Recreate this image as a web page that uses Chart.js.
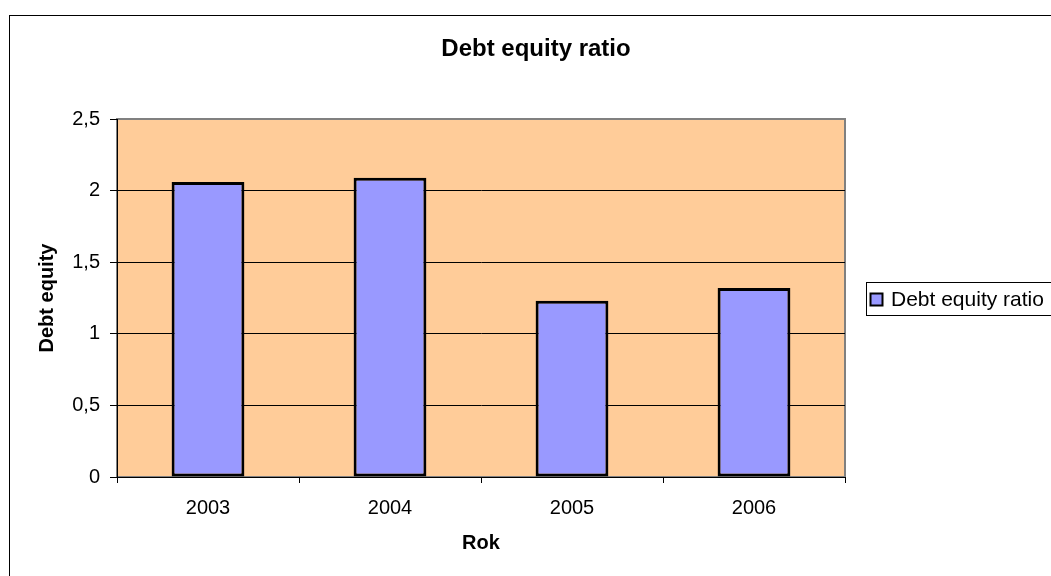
<!DOCTYPE html>
<html lang="cs">
<head>
    <meta charset="UTF-8"/>
    <title>Debt equity ratio</title>
    <style>
        body { margin: 0; background: #fff; }
        #chart-box { width: 1051px; height: 576px; }
    </style>
    <script src="https://cdn.jsdelivr.net/npm/chart.js"></script>
</head>
<body>
    <div id="chart-box">
        <canvas id="myChart" width="1051" height="576"></canvas>
    </div>
    <script>
        // data
        var roky = ['2003', '2004', '2005', '2006'];
        var debtEquity = [2.06, 2.09, 1.23, 1.32];
        var serieNazev = 'Debt equity ratio';
        var yMin = 0, yMax = 2.5, yKrok = 0.5;

        var pismo = 'Arial, "Liberation Sans", sans-serif';

        // pozadi grafu, ramecek, nadpis a legenda
        var kresleni = {
            id: 'kresleni',
            beforeDraw: function(chart) {
                var ctx = chart.ctx;
                var a = chart.chartArea;
                ctx.save();
                ctx.fillStyle = '#fff';
                ctx.fillRect(0, 0, chart.width, chart.height);
                ctx.strokeStyle = '#000';
                ctx.lineWidth = 1;
                ctx.strokeRect(9.5, 15.5, chart.width + 20, chart.height + 20);
                ctx.fillStyle = '#FFCC99';
                ctx.fillRect(a.left, a.top, a.right - a.left, a.bottom - a.top);
                ctx.strokeStyle = '#808080';
                ctx.lineWidth = 2;
                ctx.strokeRect(a.left, a.top, a.right - a.left, a.bottom - a.top);
                ctx.restore();
            },
            afterDraw: function(chart) {
                var ctx = chart.ctx;
                var ds = chart.data.datasets[0];
                ctx.save();
                ctx.fillStyle = '#000';
                ctx.font = 'bold 24px ' + pismo;
                ctx.textAlign = 'center';
                ctx.textBaseline = 'middle';
                ctx.fillText(serieNazev, 536, 49);

                // legenda
                ctx.strokeStyle = '#000';
                ctx.lineWidth = 1;
                ctx.strokeRect(866.5, 282.5, 220, 33);
                ctx.fillStyle = ds.backgroundColor;
                ctx.fillRect(870.5, 293.5, 12, 12);
                ctx.lineWidth = 2;
                ctx.strokeRect(870.5, 293.5, 12, 12);
                ctx.fillStyle = '#000';
                ctx.font = '21px ' + pismo;
                ctx.textAlign = 'left';
                ctx.fillText(ds.label, 891, 300);
                ctx.restore();
            }
        };

        var ctx = document.getElementById('myChart').getContext('2d');
        var myChart = new Chart(ctx, {
            type: 'bar',
            data: {
                labels: roky,
                datasets: [{
                    label: serieNazev,
                    data: debtEquity,
                    backgroundColor: '#9999FF',
                    borderColor: '#000',
                    borderWidth: 3,
                    borderSkipped: false,
                    barPercentage: 0.4,
                    categoryPercentage: 1
                }]
            },
            options: {
                responsive: false,
                animation: false,
                layout: { padding: { top: 119, left: 0, right: 206, bottom: 0 } },
                plugins: {
                    legend: { display: false },
                    title: { display: false },
                    tooltip: { enabled: false }
                },
                scales: {
                    x: {
                        afterFit: function(scale) { scale.height = 99; },
                        grid: { drawOnChartArea: false, tickLength: 6, color: '#000' },
                        border: { color: '#000', width: 1 },
                        ticks: { color: '#000', padding: 13, font: { size: 20, family: pismo } },
                        title: {
                            display: true,
                            text: 'Rok',
                            color: '#000',
                            font: { size: 20, weight: 'bold', family: pismo },
                            padding: { top: 0, bottom: 21 }
                        }
                    },
                    y: {
                        min: yMin,
                        max: yMax,
                        afterFit: function(scale) { scale.width = 117; },
                        grid: {
                            color: function(c) { return c.tick && c.tick.value === yMax ? '#808080' : '#000'; },
                            tickColor: '#000',
                            tickLength: 7
                        },
                        border: { color: '#000', width: 1 },
                        ticks: {
                            stepSize: yKrok,
                            color: '#000',
                            padding: 10,
                            font: { size: 20, family: pismo },
                            callback: function(value) {
                                return String(value).replace('.', ',');
                            }
                        },
                        title: {
                            display: true,
                            text: 'Debt equity',
                            color: '#000',
                            font: { size: 20, weight: 'bold', family: pismo },
                            padding: { top: 35, bottom: 0 }
                        }
                    }
                }
            },
            plugins: [kresleni]
        });
    </script>
</body>
</html>
